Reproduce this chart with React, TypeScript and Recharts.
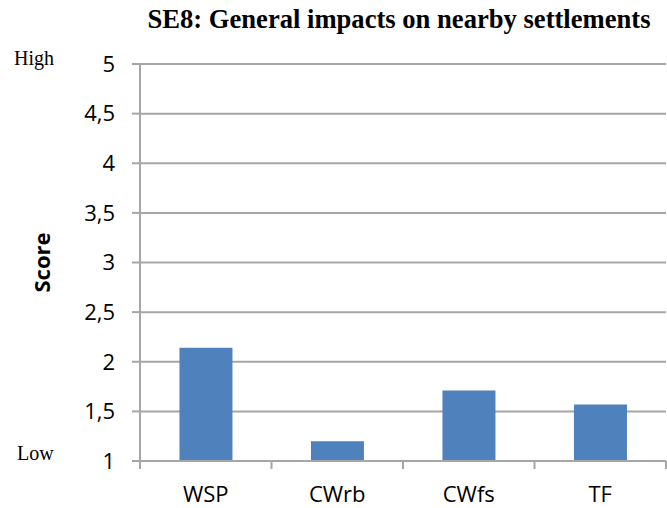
import { BarChart, Bar, XAxis, YAxis, CartesianGrid } from 'recharts';

const categories = ['WSP', 'CWrb', 'CWfs', 'TF'];
const scores = [2.14, 1.2, 1.71, 1.57];
const yTicks = [1, 1.5, 2, 2.5, 3, 3.5, 4, 4.5, 5];

const data = categories.map((name, i) => ({ name, score: scores[i] }));

const W = 667;
const H = 508;
const margin = { top: 64, right: 1, bottom: 0, left: 0 };
const xAxisHeight = 47;
const yAxisWidth = 140;
const band = (W - margin.left - margin.right - yAxisWidth) / categories.length;
const gray = '#a6a6a6';
const sans = '"Open Sans", "Noto Sans", sans-serif';
const serif = '"Liberation Serif", "DejaVu Serif", serif';

function CategoryTick(props: any) {
  const { x, y, payload, index } = props;
  const left = x - band / 2;
  return (
    <g>
      <line x1={left} y1={y - 8} x2={left} y2={y} stroke={gray} strokeWidth={2} />
      {index === categories.length - 1 && (
        <line x1={x + band / 2} y1={y - 8} x2={x + band / 2} y2={y} stroke={gray} strokeWidth={2} />
      )}
      <text x={x} y={y + 33} textAnchor="middle" fontFamily={sans} fontSize={22} fill="#000">
        {payload.value}
      </text>
    </g>
  );
}

export default function App() {
  return (
    <div style={{ position: 'absolute', left: 0, top: 0, background: '#fff' }}>
      <BarChart width={W} height={H} data={data} margin={margin} barCategoryGap="30%">
        <CartesianGrid vertical={false} stroke={gray} strokeWidth={2} />
        <XAxis
          dataKey="name"
          axisLine={{ stroke: gray, strokeWidth: 2 }}
          tickLine={false}
          tick={<CategoryTick />}
          height={xAxisHeight}
          interval={0}
        />
        <YAxis
          domain={[1, 5]}
          ticks={yTicks}
          width={yAxisWidth}
          axisLine={{ stroke: gray, strokeWidth: 2 }}
          tickLine={{ stroke: gray, strokeWidth: 2 }}
          tickSize={8}
          tickMargin={17}
          tickFormatter={(v: number) => String(v).replace('.', ',')}
          tick={{ fontFamily: sans, fontSize: 22, fill: '#000' }}
          label={{
            value: 'Score',
            angle: -90,
            position: 'insideLeft',
            offset: 0,
            dx: 42,
            style: { fontFamily: sans, fontSize: 22, fontWeight: 'bold', fill: '#000', textAnchor: 'middle' },
          }}
        />
        <Bar dataKey="score" fill="#4f81bd" isAnimationActive={false} />
        <text x={399} y={28} textAnchor="middle" fontFamily={serif} fontSize={26.6} fontWeight="bold" fill="#000">
          SE8: General impacts on nearby settlements
        </text>
        <text x={14} y={65} fontFamily={serif} fontSize={20} fill="#000">High</text>
        <text x={17} y={460} fontFamily={serif} fontSize={20} fill="#000">Low</text>
      </BarChart>
    </div>
  );
}
